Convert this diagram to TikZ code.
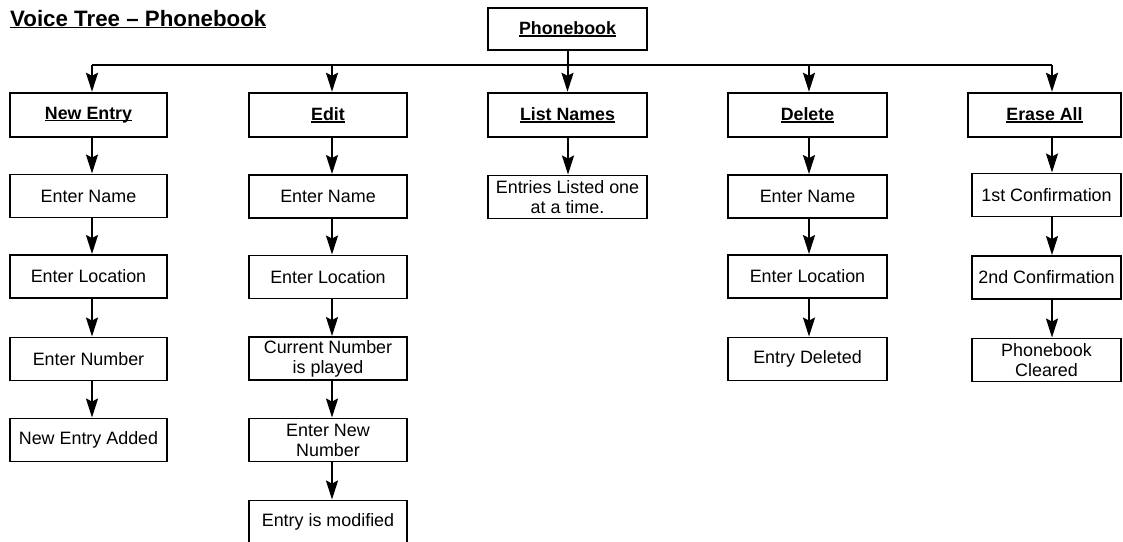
\documentclass[tikz,border=0pt]{standalone}
\usepackage{fontspec}
\setmainfont{Liberation Sans}
\usetikzlibrary{arrows.meta}
\newcommand\myul[1]{\setbox0\hbox{#1}\rlap{\rule[-2.2pt]{\wd0}{1.5pt}}\box0}
\tikzset{
  topbox/.style={draw, line width=2.4pt, rectangle, minimum height=44pt, inner sep=0pt,
    font=\fontsize{17.8}{20}\selectfont\bfseries},
  childbox/.style={draw, line width=1.9pt, rectangle, minimum height=43pt, inner sep=0pt,
    align=center, font=\fontsize{17.9}{20}\selectfont},
  conn/.style={line width=2pt, -{Stealth[length=19pt,width=12pt,inset=3pt]}},
  busline/.style={line width=2pt}
}
\begin{document}
\begin{tikzpicture}[x=1pt,y=-1pt]
\useasboundingbox (0,0) rectangle (1123,541);
% title
\node[anchor=base west, inner sep=0pt, font=\fontsize{22.3}{24}\selectfont\bfseries] (title) at (10,26) {\myul{Voice Tree – Phonebook}};
% column x positions for connectors
\coordinate (bus) at (0,65);
\coordinate (c1) at (92,0);
\coordinate (c2) at (332,0);
\coordinate (c3) at (568,0);
\coordinate (c4) at (809,0);
\coordinate (c5) at (1052,0);
% root
\node[topbox, minimum width=159pt, minimum height=42pt] (pb) at (567.5,29) {\myul{Phonebook}};
% top level
\node[topbox, minimum width=157pt] (ne) at (88.5,115) {\myul{New Entry}};
\node[topbox, minimum width=158pt] (ed) at (328,115) {\myul{Edit}};
\node[topbox, minimum width=159pt] (ln) at (567.5,115) {\myul{List Names}};
\node[topbox, minimum width=159pt] (de) at (807.5,115) {\myul{Delete}};
\node[topbox, minimum width=153pt] (ea) at (1044.5,115) {\myul{Erase All}};
% New Entry column
\node[childbox, minimum width=157pt] (ne1) at (88.5,196) {Enter Name};
\node[childbox, minimum width=157pt] (ne2) at (88.5,276.5) {Enter Location};
\node[childbox, minimum width=157pt] (ne3) at (88.5,359) {Enter Number};
\node[childbox, minimum width=157pt] (ne4) at (88.5,440) {New Entry Added};
% Edit column
\node[childbox, minimum width=158pt] (ed1) at (328,196.5) {Enter Name};
\node[childbox, minimum width=158pt] (ed2) at (328,277) {Enter Location};
\node[childbox, minimum width=158pt] (ed3) at (328,358.5) {Current Number\\is played};
\node[childbox, minimum width=158pt] (ed4) at (328,440) {Enter New\\Number};
\node[childbox, minimum width=158pt] (ed5) at (328,522) {Entry is modified};
% List Names column
\node[childbox, minimum width=159pt] (ln1) at (567.5,197) {Entries Listed one\\at a time.};
% Delete column
\node[childbox, minimum width=159pt] (de1) at (807.5,196.5) {Enter Name};
\node[childbox, minimum width=159pt] (de2) at (807.5,276.5) {Enter Location};
\node[childbox, minimum width=159pt] (de3) at (807.5,359) {Entry Deleted};
% Erase All column
\node[childbox, minimum width=149pt] (ea1) at (1046.5,195) {1st Confirmation};
\node[childbox, minimum width=149pt] (ea2) at (1046.5,277.5) {2nd Confirmation};
\node[childbox, minimum width=149pt] (ea3) at (1046.5,360) {Phonebook\\Cleared};
% bus
\draw[busline] (c1 |- bus) -- (c5 |- bus);
\draw[conn] (pb.south) -- (ln.north);
\draw[conn] (c1 |- bus) -- (ne.north -| c1);
\draw[conn] (c2 |- bus) -- (ed.north -| c2);
\draw[conn] (c4 |- bus) -- (de.north -| c4);
\draw[conn] (c5 |- bus) -- (ea.north -| c5);
% column chains
\draw[conn] (ne.south -| c1) -- (ne1.north -| c1);
\draw[conn] (ne1.south -| c1) -- (ne2.north -| c1);
\draw[conn] (ne2.south -| c1) -- (ne3.north -| c1);
\draw[conn] (ne3.south -| c1) -- (ne4.north -| c1);
\draw[conn] (ed.south -| c2) -- (ed1.north -| c2);
\draw[conn] (ed1.south -| c2) -- (ed2.north -| c2);
\draw[conn] (ed2.south -| c2) -- (ed3.north -| c2);
\draw[conn] (ed3.south -| c2) -- (ed4.north -| c2);
\draw[conn] (ed4.south -| c2) -- (ed5.north -| c2);
\draw[conn] (ln.south -| c3) -- (ln1.north -| c3);
\draw[conn] (de.south -| c4) -- (de1.north -| c4);
\draw[conn] (de1.south -| c4) -- (de2.north -| c4);
\draw[conn] (de2.south -| c4) -- (de3.north -| c4);
\draw[conn] (ea.south -| c5) -- (ea1.north -| c5);
\draw[conn] (ea1.south -| c5) -- (ea2.north -| c5);
\draw[conn] (ea2.south -| c5) -- (ea3.north -| c5);
\end{tikzpicture}
\end{document}
